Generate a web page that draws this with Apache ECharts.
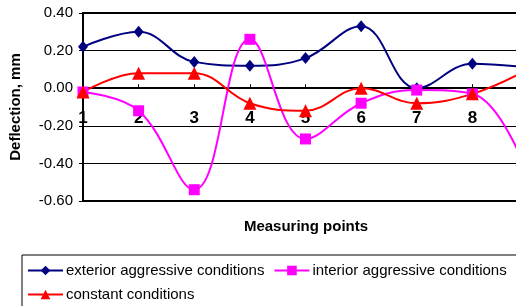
<!DOCTYPE html>
<html>
<head>
<meta charset="utf-8">
<script src="https://cdn.jsdelivr.net/npm/echarts@6/dist/echarts.min.js"></script>
<style>html,body{margin:0;padding:0;background:#fff}#c{width:516px;height:306px}</style>
</head>
<body>
<div id="c"></div>
<script>
var categories = ['1', '2', '3', '4', '5', '6', '7', '8', '9'];
var exterior = [0.22, 0.30, 0.14, 0.12, 0.16, 0.33, 0.00, 0.13, 0.11];
var interior = [-0.02, -0.12, -0.54, 0.26, -0.27, -0.08, -0.01, -0.03, -0.46];
var constant = [-0.02, 0.08, 0.08, -0.08, -0.12, 0.00, -0.08, -0.03, 0.10];
var seriesNames = ['exterior aggressive conditions', 'interior aggressive conditions', 'constant conditions'];
var yTicks = {min: -0.6, max: 0.4, interval: 0.2};

var FONT = '"Liberation Sans", Arial, sans-serif';
var GRID_TOP = 13, GRID_BOTTOM = 105, H = 306;
var plotH = H - GRID_TOP - GRID_BOTTOM;
var zeroOffset = -plotH * (0 - yTicks.min) / (yTicks.max - yTicks.min);

var chart = echarts.init(document.getElementById('c'), null, {renderer: 'canvas'});
function mk(name, data, color, symbol, size) {
  return {
    name: name, type: 'line', data: data, smooth: 0.4,
    symbol: symbol, symbolSize: size, showSymbol: true,
    lineStyle: {color: color, width: 2},
    itemStyle: {color: color},
    emphasis: {disabled: true}
  };
}
chart.setOption({
  animation: false,
  textStyle: {fontFamily: FONT},
  title: {
    text: 'Measuring points', left: 306, top: 219, textAlign: 'center', padding: 0,
    textStyle: {fontFamily: FONT, fontSize: 15, fontWeight: 'bold', color: '#000'}
  },
  grid: {left: 83, top: GRID_TOP, right: -12, bottom: GRID_BOTTOM, show: true, borderColor: '#000', borderWidth: 2,
         containLabel: false, outerBoundsMode: 'none'},
  legend: {
    data: seriesNames, left: 22, top: 255, width: 500,
    orient: 'horizontal', itemWidth: 35, itemHeight: 12, itemGap: 9,
    padding: [8, 20, 7, 5], borderColor: '#000', borderWidth: 1,
    textStyle: {fontFamily: FONT, fontSize: 15, color: '#000', padding: [0, 0, 0, -2]}
  },
  xAxis: {
    type: 'category', data: categories, boundaryGap: false,
    position: 'bottom', offset: zeroOffset,
    axisLine: {onZero: false, lineStyle: {color: '#000', width: 2}},
    axisTick: {show: true, inside: true, length: 4, alignWithLabel: true, lineStyle: {color: '#000', width: 1}},
    axisLabel: {margin: 22, fontFamily: FONT, fontSize: 17, fontWeight: 'bold', color: '#000'},
    splitLine: {show: false}
  },
  yAxis: {
    type: 'value', min: yTicks.min, max: yTicks.max, interval: yTicks.interval,
    name: 'Deflection, mm', nameLocation: 'middle', nameGap: 60,
    nameTextStyle: {fontFamily: FONT, fontSize: 15, fontWeight: 'bold', color: '#000'},
    axisLine: {show: true, onZero: false, lineStyle: {color: '#000', width: 2}},
    axisTick: {show: true, length: 4, lineStyle: {color: '#000'}},
    axisLabel: {margin: 10, fontFamily: FONT, fontSize: 15, color: '#000', formatter: function (v) { return v.toFixed(2); }},
    splitLine: {show: true, lineStyle: {color: '#000', width: 1}}
  },
  series: [
    mk(seriesNames[0], exterior, '#000080', 'diamond', [10, 12]),
    mk(seriesNames[1], interior, '#FF00FF', 'rect', 11),
    mk(seriesNames[2], constant, '#FF0000', 'triangle', 13)
  ]
});
</script>
</body>
</html>
